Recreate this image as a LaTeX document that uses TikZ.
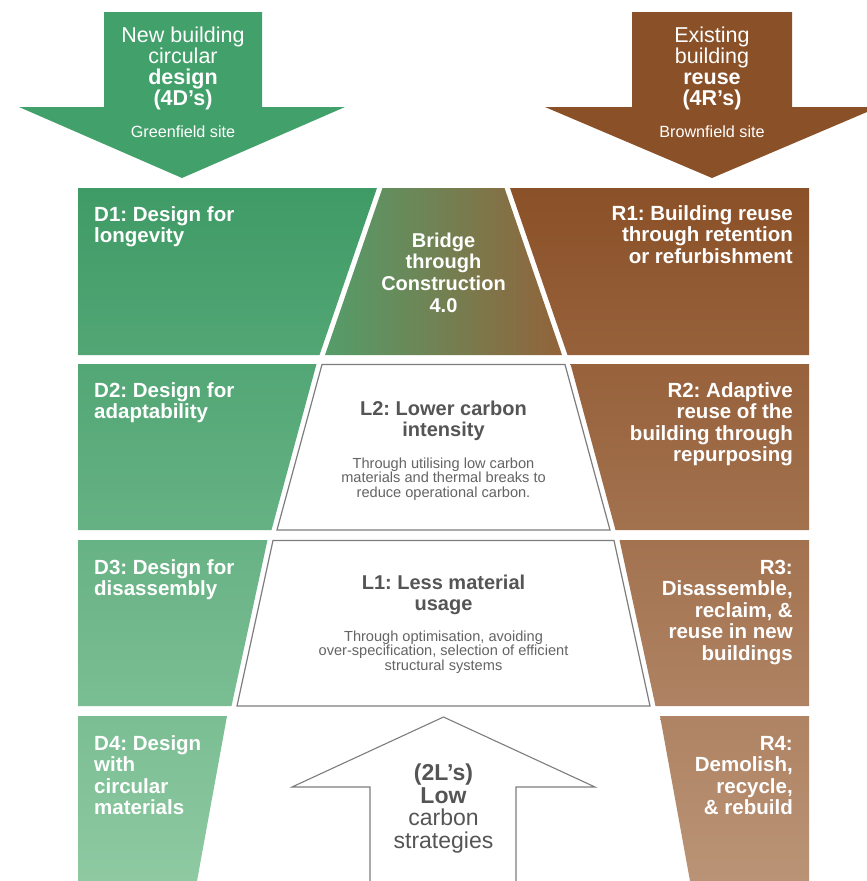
\documentclass[tikz,border=0pt]{standalone}
\usepackage{fontspec}
\setmainfont{Liberation Sans}
\frenchspacing
\definecolor{gA}{RGB}{63,155,102}
\definecolor{gB}{RGB}{142,201,162}
\definecolor{bA}{RGB}{139,81,40}
\definecolor{bB}{RGB}{186,147,118}
\definecolor{gArrow}{RGB}{66,160,106}
\definecolor{bArrow}{RGB}{138,80,39}
\definecolor{bridgeL}{RGB}{84,157,106}
\definecolor{bridgeR}{RGB}{146,99,58}
\definecolor{titlegray}{RGB}{85,85,85}
\definecolor{descgray}{RGB}{100,100,100}
\definecolor{linegray}{RGB}{125,125,125}
\colorlet{g1t}{gB!0!gA}\colorlet{g1b}{gB!24!gA}
\colorlet{g2t}{gB!25!gA}\colorlet{g2b}{gB!49!gA}
\colorlet{g3t}{gB!51!gA}\colorlet{g3b}{gB!75!gA}
\colorlet{g4t}{gB!76!gA}\colorlet{g4b}{gB!100!gA}
\colorlet{b1t}{bB!0!bA}\colorlet{b1b}{bB!24!bA}
\colorlet{b2t}{bB!25!bA}\colorlet{b2b}{bB!49!bA}
\colorlet{b3t}{bB!51!bA}\colorlet{b3b}{bB!75!bA}
\colorlet{b4t}{bB!76!bA}\colorlet{b4b}{bB!100!bA}
\begin{document}
\begin{tikzpicture}[x=1pt,y=-1pt,
  sidetxt/.style={text=white, inner sep=0pt, font=\fontsize{20.5}{21.6}\selectfont\bfseries},
  lefttxt/.style={sidetxt, align=left, anchor=base west},
  righttxt/.style={sidetxt, align=right, anchor=base east},
  toptxt/.style={text=white, inner sep=0pt, align=center, anchor=base, font=\fontsize{21.5}{21}\selectfont},
  smalltxt/.style={text=white, inner sep=0pt, anchor=base, font=\fontsize{16.2}{17}\selectfont},
  bridgetxt/.style={text=white, inner sep=0pt, align=center, anchor=base, font=\fontsize{20}{21.6}\selectfont\bfseries},
  ltitle/.style={text=titlegray, inner sep=0pt, align=center, anchor=base, font=\fontsize{20}{21}\selectfont\bfseries},
  ldesc/.style={text=descgray, inner sep=0pt, align=center, anchor=base, font=\fontsize{14.6}{14.5}\selectfont},
  lbox/.style={draw=linegray, line width=1.2pt, fill=white, line join=miter},
  uptxt/.style={text=titlegray, inner sep=0pt, align=center, anchor=base, font=\fontsize{23}{22.5}\selectfont}
]
\useasboundingbox (0,0) rectangle (867,881);
\fill[white] (0,0) rectangle (867,881);

% top arrows
\fill[gArrow] (104,12) -- (262,12) -- (262,107) -- (345,107) -- (182,178) -- (19,107) -- (104,107) -- cycle;
\fill[bArrow] (632,12) -- (792,12) -- (792,107) -- (867,107) -- (867,112) -- (712,178) -- (545,107) -- (632,107) -- cycle;
\node[toptxt] (newb) at (183,105) {New building\\circular\\\textbf{design}\\\textbf{(4D's)}};
\node[smalltxt] (green) at (183,137) {Greenfield site};
\node[toptxt] (exist) at (712,105) {Existing\\building\\\textbf{reuse}\\\textbf{(4R's)}};
\node[smalltxt] (brown) at (712,137) {Brownfield site};

% green column
\shade[top color=g1t, bottom color=g1b] (78,188) -- (377,188) -- (319.5,355) -- (78,355) -- cycle;
\shade[top color=g2t, bottom color=g2b] (78,364) -- (316.5,364) -- (271.5,530) -- (78,530) -- cycle;
\shade[top color=g3t, bottom color=g3b] (78,540) -- (267.5,540) -- (231.5,706) -- (78,706) -- cycle;
\shade[top color=g4t, bottom color=g4b] (78,716) -- (227,716) -- (197,881) -- (78,881) -- cycle;
% brown column
\shade[top color=b1t, bottom color=b1b] (510,188) -- (809,188) -- (809,355) -- (567.5,355) -- cycle;
\shade[top color=b2t, bottom color=b2b] (570.5,364) -- (809,364) -- (809,530) -- (615.5,530) -- cycle;
\shade[top color=b3t, bottom color=b3b] (619.5,540) -- (809,540) -- (809,706) -- (655.5,706) -- cycle;
\shade[top color=b4t, bottom color=b4b] (660,716) -- (809,716) -- (809,881) -- (690,881) -- cycle;

% center bridge
\shade[left color=bridgeL, right color=bridgeR] (382.5,188) -- (504.5,188) -- (562,355) -- (325,355) -- cycle;
\node[bridgetxt] (bridge) at (443.5,312) {Bridge\\through\\Construction\\4.0};

% L2 and L1
\draw[lbox] (322,364.5) -- (565,364.5) -- (610,530) -- (277,530) -- cycle;
\node[ltitle] (l2t) at (443.5,436) {L2: Lower carbon\\intensity};
\node[ldesc] (l2d) at (443.5,497) {Through utilising low carbon\\materials and thermal breaks to\\reduce operational carbon.};
\draw[lbox] (273,540.5) -- (614,540.5) -- (650,706) -- (237,706) -- cycle;
\node[ltitle] (l1t) at (443.5,610) {L1: Less material\\usage};
\node[ldesc] (l1d) at (443.5,670) {Through optimisation, avoiding\\over-specification, selection of efficient\\structural systems};

% up arrow
\draw[draw=linegray, line width=1.1pt, fill=white, line join=miter] (370,884) -- (370,787) -- (292,787) -- (443.5,717) -- (595,787) -- (516,787) -- (516,884);
\node[uptxt] (twol) at (443.5,848) {\textbf{(2L's)}\\\textbf{Low}\\carbon\\strategies};

% side labels
\node[lefttxt] (d1) at (94,242.6) {D1: Design for\\longevity};
\node[lefttxt] (d2) at (94,418.6) {D2: Design for\\adaptability};
\node[lefttxt] (d3) at (94,595.6) {D3: Design for\\disassembly};
\node[lefttxt] (d4) at (94,814.8) {D4: Design\\with\\circular\\materials};
\node[righttxt] (r1) at (793,263.2) {R1: Building reuse\\through retention\\or refurbishment};
\node[righttxt] (r2) at (793,461.8) {R2: Adaptive\\reuse of the\\building through\\repurposing};
\node[righttxt] (r3) at (793,660.4) {R3:\\Disassemble,\\reclaim, \&\\reuse in new\\buildings};
\node[righttxt] (r4) at (793,814.8) {R4:\\Demolish,\\recycle,\\\& rebuild};
\end{tikzpicture}
\end{document}
